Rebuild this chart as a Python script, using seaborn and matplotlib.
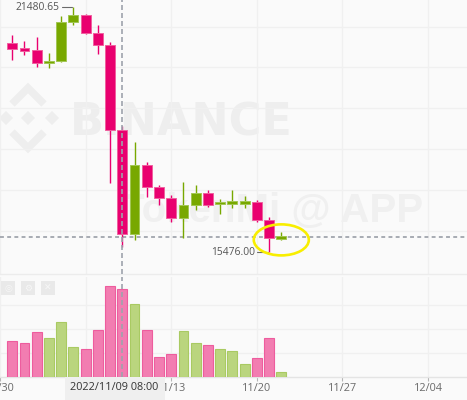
import numpy as np
import pandas as pd
import seaborn as sns
import matplotlib
matplotlib.use('Agg')
from matplotlib import pyplot as plt
import matplotlib.dates as mdates
from matplotlib.patches import Ellipse, Rectangle, Polygon

# BTC/USDT daily candles
dates = pd.date_range('2022-10-31', '2022-11-22', freq='D')
opens = [20600, 20450, 20430, 20110, 20158, 21113, 21285, 20844, 20550, 18467,
         15919, 17610, 17071, 16801, 16311, 16630, 16924, 16660, 16680, 16680,
         16703, 16262, 15820]
highs = [20800, 20650, 20745, 20355, 21260, 21480.65, 21309, 21040, 20620, 18565,
         18173, 17683, 17120, 16875, 17193, 17120, 16997, 16777, 16997, 16850,
         16752, 16336, 15968]
lows = [20180, 20300, 20010, 19985, 20133, 21040, 20819, 20329, 17169, 15601,
        15772, 16826, 16630, 16213, 15821, 16507, 16581, 16409, 16556, 16556,
        16213, 15476, 15775]
closes = [20450, 20430, 20110, 20158, 21113, 21285, 20844, 20550, 18467, 15919,
          17610, 17071, 16801, 16311, 16630, 16924, 16630, 16690, 16700, 16700,
          16262, 15820, 15850]
volumes = [300, 283, 375, 325, 458, 250, 233, 392, 758, 733, 608, 392, 167, 192,
           383, 283, 267, 233, 217, 108, 158, 325, 42]  # thousand BTC

week_ticks = pd.to_datetime(['2022-10-30', '2022-11-06', '2022-11-13',
                             '2022-11-20', '2022-11-27', '2022-12-04'])
price_grid = [16000, 17000, 18000, 19000, 20000, 21000]
vol_grid = [200, 400, 600]
crosshair = pd.Timestamp('2022-11-09')
tooltip_text = '2022/11/09 08:00'
last_price = 15850

UP = '#78a800'
UP_EDGE = '#a2c653'
DOWN = '#e9006f'
DOWN_EDGE = '#f0609f'
VOL_UP = '#bad57e'
VOL_UP_EDGE = '#a9ca62'
VOL_DOWN = '#f27db1'
VOL_DOWN_EDGE = '#ee5c9e'
BG = '#fafafa'
GRID = '#f0f0f0'

sns.set_theme(style='white', rc={'axes.facecolor': BG, 'figure.facecolor': BG})
plt.rcParams['font.family'] = ['Open Sans', 'DejaVu Sans']

W, H = 467, 400
fig = plt.figure(figsize=(W / 100, H / 100), dpi=100)
top_h = 274
ax = fig.add_axes([0, 1 - top_h / H, 1, top_h / H])
axv = fig.add_axes([0, 23 / H, 1, 100 / H])

x = mdates.date2num(dates)
px_day = 12.571
x0 = mdates.date2num(pd.Timestamp('2022-11-13')) - 163 / px_day
x1 = x0 + W / px_day
px_price = 24.5
y_top = 21480.65 + 7 * px_price
y_bot = y_top - top_h * px_price

o = np.array(opens, float)
c = np.array(closes, float)
up = c >= o
colors = np.where(up, UP, DOWN)
edges = np.where(up, UP_EDGE, DOWN_EDGE)

# watermark (axes fraction helpers)
def fx(p):
    return p / W

def fy(p):
    return 1 - p / top_h

wm = '#eeeeee'
for cx in (6, 28, 52):
    ax.add_patch(Polygon([(fx(cx), fy(111)), (fx(cx + 7), fy(118)), (fx(cx), fy(125)), (fx(cx - 7), fy(118))],
                         closed=True, transform=ax.transAxes, color=wm, zorder=0.5, lw=0))
for pts in ([(12, 104), (28, 88), (44, 104)], [(12, 132), (28, 148), (44, 132)]):
    ax.plot([fx(p[0]) for p in pts], [fy(p[1]) for p in pts], transform=ax.transAxes,
            color=wm, lw=5.5, solid_joinstyle='miter', solid_capstyle='butt', zorder=0.5)
ax.text(fx(70), fy(135), 'BINANCE', transform=ax.transAxes, fontsize=32, fontweight='bold',
        family='DejaVu Sans', color=wm, ha='left', va='baseline', zorder=0.5)
ax.text(fx(120), fy(222), 'TokenMi @ APP', transform=ax.transAxes, fontsize=29, fontweight='bold',
        family='Liberation Sans', color='#f0f0f0', ha='left', va='baseline', zorder=0.5)

# candles
body_low = np.minimum(o, c)
body_h = np.abs(c - o)
min_h = 55
small = body_h < min_h
body_low = np.where(small, (o + c) / 2 - min_h / 2, body_low)
body_h = np.where(small, min_h, body_h)
ax.vlines(x, lows, highs, colors=colors, lw=1.0, zorder=2)
ax.bar(x, body_h, bottom=body_low, width=0.8, color=colors, edgecolor=edges, linewidth=0.7, zorder=3)

# high / low labels
i_hi = int(np.argmax(highs))
i_lo = int(np.argmin(lows))
for i, val in ((i_hi, highs[i_hi]), (i_lo, lows[i_lo])):
    ax.plot([x[i] - 0.95, x[i] - 0.1], [val, val], color='#6a6a6a', lw=0.8, zorder=4)
    ax.text(x[i] - 1.15, val, f'{val:.2f}', ha='right', va='center', fontsize=7.4, color='#555555', zorder=4)

# last price and crosshair
ax.axhline(last_price, color='#a7abb3', lw=1.4, ls=(0, (2.0, 1.7)), zorder=1.5)
for a in (ax, axv):
    a.axvline(mdates.date2num(crosshair), color='#9ea3ad', lw=1.2, ls=(0, (3, 1.8)), zorder=5)

ax.add_patch(Ellipse((x[-1], lows[-1]), 4.5, 760, fill=False, ec='#f8ee00', lw=1.9, zorder=6))

ax.set_xlim(x0, x1)
ax.set_ylim(y_bot, y_top)
ax.set_yticks(price_grid)
ax.set_xticks(mdates.date2num(week_ticks))
ax.grid(True, color=GRID, lw=1)
ax.tick_params(left=False, bottom=False, labelleft=False, labelbottom=False)
for s in ('top', 'left', 'right'):
    ax.spines[s].set_visible(False)
ax.spines['bottom'].set_color('#ececec')
ax.spines['bottom'].set_linewidth(1.0)

# volume panel
vcol = np.where(up, VOL_UP, VOL_DOWN)
vedge = np.where(up, VOL_UP_EDGE, VOL_DOWN_EDGE)
axv.bar(x, volumes, width=0.8, color=vcol, edgecolor=vedge, linewidth=0.8, zorder=3)
axv.set_xlim(x0, x1)
axv.set_ylim(0, 833)
axv.set_yticks(vol_grid)
axv.set_xticks(mdates.date2num(week_ticks))
axv.xaxis.set_major_formatter(mdates.DateFormatter('%m/%d'))
axv.grid(True, color=GRID, lw=1)
axv.tick_params(axis='y', left=False, labelleft=False)
axv.tick_params(axis='x', bottom=True, length=3, width=0.8, color='#b5b5b5', pad=1.5,
                labelsize=7.8, labelcolor='#6a6a6a')
for s in ('top', 'left', 'right'):
    axv.spines[s].set_visible(False)
axv.spines['bottom'].set_color('#e4e4e4')
axv.spines['bottom'].set_linewidth(1.0)

# panel buttons
for i, g in enumerate(['\u25ce', '\u2699', '\u2715']):
    fig.patches.append(Rectangle(((1 + 20 * i) / W, 1 - 295 / H), 14 / W, 14 / H,
                                 transform=fig.transFigure, facecolor='#e9e9e9', lw=0, zorder=3))
    fig.text((8 + 20 * i) / W, 1 - 288 / H, g, ha='center', va='center', fontsize=6.5,
             family='DejaVu Sans', color='#f7f7f7', zorder=4)

# crosshair time label
fig.patches.append(Rectangle((65 / W, 0), 100 / W, 23 / H, transform=fig.transFigure,
                             facecolor='#efefef', lw=0, zorder=10))
fig.text(114.5 / W, 12 / H, tooltip_text, ha='center', va='center', fontsize=7.8,
         color='#333333', zorder=11)

fig.savefig('out.png', dpi=100, facecolor=BG)
